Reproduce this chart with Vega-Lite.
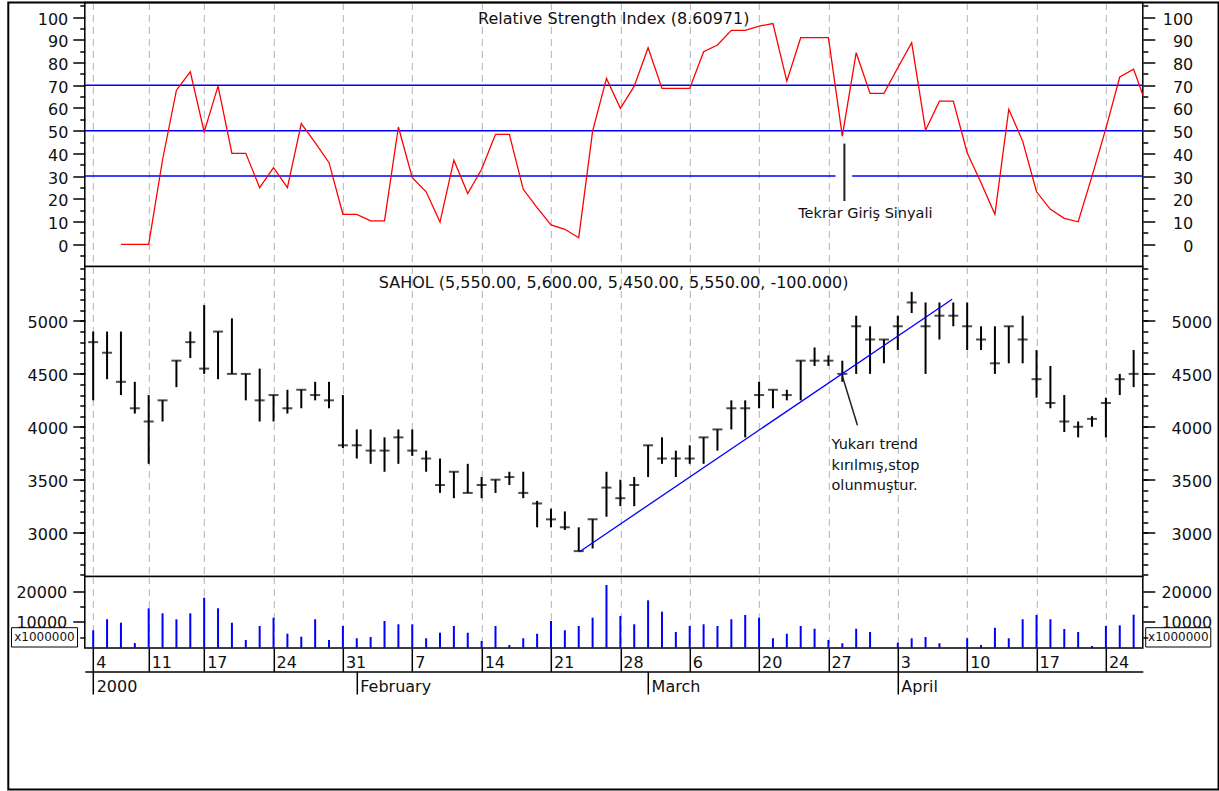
{
  "$schema": "https://vega.github.io/schema/vega-lite/v6.json",
  "padding": {"left": 5.8, "top": 0.5, "right": 0, "bottom": 0},
  "background": "white",
  "spacing": 0,
  "bounds": "flush",
  "config": {
    "font": "DejaVu Sans",
    "view": {"stroke": "#000000", "strokeWidth": 1.5, "fill": "white"},
    "axis": {"labelFont": "DejaVu Sans", "labelFontSize": 16, "labelColor": "#111111", "tickColor": "#000000", "tickWidth": 1.5, "domainColor": "#000000", "domainWidth": 1.5, "labelOverlap": false, "labelFlush": false, "labelBound": false, "grid": false}
  },
  "datasets": {
    "bars": [
      {"i":0,"date":"2000-01-04","high":4900,"low":4250,"close":4800,"vol":7280,"rsi":null},
      {"i":1,"date":"2000-01-05","high":4900,"low":4450,"close":4700,"vol":10890,"rsi":null},
      {"i":2,"date":"2000-01-06","high":4900,"low":4300,"close":4425,"vol":9770,"rsi":0},
      {"i":3,"date":"2000-01-07","high":4425,"low":4125,"close":4175,"vol":3100,"rsi":0},
      {"i":4,"date":"2000-01-11","high":4300,"low":3650,"close":4050,"vol":14490,"rsi":0},
      {"i":5,"date":"2000-01-12","high":4250,"low":4050,"close":4250,"vol":12850,"rsi":37.2},
      {"i":6,"date":"2000-01-13","high":4625,"low":4375,"close":4625,"vol":10890,"rsi":67.8},
      {"i":7,"date":"2000-01-14","high":4900,"low":4650,"close":4800,"vol":12850,"rsi":75.9},
      {"i":8,"date":"2000-01-17","high":5150,"low":4500,"close":4550,"vol":17970,"rsi":49.4},
      {"i":9,"date":"2000-01-18","high":4900,"low":4450,"close":4900,"vol":14490,"rsi":69.6},
      {"i":10,"date":"2000-01-19","high":5025,"low":4500,"close":4500,"vol":9770,"rsi":40.0},
      {"i":11,"date":"2000-01-20","high":4500,"low":4250,"close":4500,"vol":4100,"rsi":40.0},
      {"i":12,"date":"2000-01-21","high":4550,"low":4050,"close":4250,"vol":8690,"rsi":24.9},
      {"i":13,"date":"2000-01-24","high":4300,"low":4050,"close":4300,"vol":11410,"rsi":33.7},
      {"i":14,"date":"2000-01-25","high":4350,"low":4125,"close":4175,"vol":6160,"rsi":24.9},
      {"i":15,"date":"2000-01-26","high":4350,"low":4175,"close":4350,"vol":5180,"rsi":53.1},
      {"i":16,"date":"2000-01-27","high":4425,"low":4250,"close":4300,"vol":10890,"rsi":44.7},
      {"i":17,"date":"2000-01-28","high":4425,"low":4175,"close":4250,"vol":4100,"rsi":35.9},
      {"i":18,"date":"2000-01-31","high":4300,"low":3800,"close":3825,"vol":8690,"rsi":13.2},
      {"i":19,"date":"2000-02-01","high":3975,"low":3700,"close":3825,"vol":4660,"rsi":13.2},
      {"i":20,"date":"2000-02-02","high":3975,"low":3650,"close":3775,"vol":5080,"rsi":10.3},
      {"i":21,"date":"2000-02-03","high":3900,"low":3575,"close":3775,"vol":10330,"rsi":10.3},
      {"i":22,"date":"2000-02-04","high":3975,"low":3650,"close":3900,"vol":9250,"rsi":51.6},
      {"i":23,"date":"2000-02-07","high":3975,"low":3725,"close":3775,"vol":9250,"rsi":29.3},
      {"i":24,"date":"2000-02-08","high":3775,"low":3575,"close":3700,"vol":4660,"rsi":23.1},
      {"i":25,"date":"2000-02-09","high":3700,"low":3375,"close":3450,"vol":6490,"rsi":9.8},
      {"i":26,"date":"2000-02-10","high":3575,"low":3325,"close":3575,"vol":8690,"rsi":37.0},
      {"i":27,"date":"2000-02-11","high":3650,"low":3375,"close":3375,"vol":6490,"rsi":22.3},
      {"i":28,"date":"2000-02-14","high":3525,"low":3325,"close":3450,"vol":3770,"rsi":33.0},
      {"i":29,"date":"2000-02-15","high":3500,"low":3375,"close":3500,"vol":8690,"rsi":48.4},
      {"i":30,"date":"2000-02-16","high":3575,"low":3450,"close":3525,"vol":2460,"rsi":48.4},
      {"i":31,"date":"2000-02-17","high":3575,"low":3325,"close":3375,"vol":4660,"rsi":24.2},
      {"i":32,"date":"2000-02-18","high":3300,"low":3050,"close":3275,"vol":6160,"rsi":16.1},
      {"i":33,"date":"2000-02-21","high":3225,"low":3050,"close":3125,"vol":10330,"rsi":8.5},
      {"i":34,"date":"2000-02-22","high":3200,"low":3025,"close":3050,"vol":7280,"rsi":6.6},
      {"i":35,"date":"2000-02-23","high":3050,"low":2825,"close":2825,"vol":8690,"rsi":2.9},
      {"i":36,"date":"2000-02-24","high":3125,"low":2850,"close":3125,"vol":11410,"rsi":49.8},
      {"i":37,"date":"2000-02-25","high":3575,"low":3150,"close":3425,"vol":22130,"rsi":73.0},
      {"i":38,"date":"2000-02-28","high":3500,"low":3250,"close":3325,"vol":11970,"rsi":59.8},
      {"i":39,"date":"2000-02-29","high":3525,"low":3250,"close":3450,"vol":9250,"rsi":69.6},
      {"i":40,"date":"2000-03-01","high":3825,"low":3525,"close":3825,"vol":17110,"rsi":86.5},
      {"i":41,"date":"2000-03-02","high":3900,"low":3650,"close":3700,"vol":13380,"rsi":68.6},
      {"i":42,"date":"2000-03-03","high":3775,"low":3525,"close":3700,"vol":6720,"rsi":68.6},
      {"i":43,"date":"2000-03-06","high":3825,"low":3650,"close":3700,"vol":8690,"rsi":68.6},
      {"i":44,"date":"2000-03-07","high":3900,"low":3650,"close":3900,"vol":9250,"rsi":84.7},
      {"i":45,"date":"2000-03-08","high":3975,"low":3775,"close":3975,"vol":8690,"rsi":87.7},
      {"i":46,"date":"2000-03-09","high":4250,"low":3975,"close":4175,"vol":10890,"rsi":94.1},
      {"i":47,"date":"2000-03-10","high":4250,"low":3900,"close":4175,"vol":12300,"rsi":94.1},
      {"i":48,"date":"2000-03-20","high":4425,"low":4175,"close":4300,"vol":11410,"rsi":96.0},
      {"i":49,"date":"2000-03-21","high":4350,"low":4175,"close":4350,"vol":4660,"rsi":97.1},
      {"i":50,"date":"2000-03-22","high":4350,"low":4250,"close":4300,"vol":6160,"rsi":71.8},
      {"i":51,"date":"2000-03-23","high":4625,"low":4250,"close":4625,"vol":8690,"rsi":90.9},
      {"i":52,"date":"2000-03-24","high":4750,"low":4575,"close":4625,"vol":7800,"rsi":90.9},
      {"i":53,"date":"2000-03-27","high":4675,"low":4575,"close":4625,"vol":4100,"rsi":90.9},
      {"i":54,"date":"2000-03-28","high":4625,"low":4425,"close":4500,"vol":3020,"rsi":47.6},
      {"i":55,"date":"2000-03-29","high":5050,"low":4500,"close":4950,"vol":7800,"rsi":84.3},
      {"i":56,"date":"2000-03-30","high":4950,"low":4500,"close":4825,"vol":6720,"rsi":66.4},
      {"i":57,"date":"2000-03-31","high":4825,"low":4600,"close":4825,"vol":null,"rsi":66.4},
      {"i":58,"date":"2000-04-03","high":5050,"low":4725,"close":4950,"vol":3210,"rsi":77.7},
      {"i":59,"date":"2000-04-04","high":5275,"low":5075,"close":5175,"vol":4660,"rsi":88.7},
      {"i":60,"date":"2000-04-05","high":5175,"low":4500,"close":4950,"vol":5080,"rsi":50.2},
      {"i":61,"date":"2000-04-06","high":5175,"low":4825,"close":5050,"vol":3020,"rsi":63.0},
      {"i":62,"date":"2000-04-07","high":5175,"low":4950,"close":5050,"vol":null,"rsi":63.0},
      {"i":63,"date":"2000-04-10","high":5175,"low":4725,"close":4950,"vol":4660,"rsi":40.3},
      {"i":64,"date":"2000-04-11","high":4950,"low":4725,"close":4825,"vol":2460,"rsi":27.1},
      {"i":65,"date":"2000-04-12","high":4950,"low":4500,"close":4600,"vol":8130,"rsi":13.2},
      {"i":66,"date":"2000-04-13","high":4950,"low":4600,"close":4950,"vol":4660,"rsi":59.4},
      {"i":67,"date":"2000-04-14","high":5050,"low":4600,"close":4825,"vol":10890,"rsi":45.4},
      {"i":68,"date":"2000-04-17","high":4725,"low":4275,"close":4450,"vol":12300,"rsi":23.1},
      {"i":69,"date":"2000-04-18","high":4575,"low":4175,"close":4225,"vol":10890,"rsi":15.4},
      {"i":70,"date":"2000-04-19","high":4300,"low":3950,"close":4050,"vol":7700,"rsi":11.4},
      {"i":71,"date":"2000-04-20","high":4050,"low":3900,"close":4000,"vol":6720,"rsi":9.9},
      {"i":72,"date":"2000-04-21","high":4100,"low":4000,"close":4075,"vol":2130,"rsi":30.0},
      {"i":73,"date":"2000-04-24","high":4275,"low":3900,"close":4225,"vol":8690,"rsi":51.0},
      {"i":74,"date":"2000-04-25","high":4500,"low":4300,"close":4450,"vol":8900,"rsi":73.6},
      {"i":75,"date":"2000-04-26","high":4725,"low":4375,"close":4500,"vol":12400,"rsi":77.0},
      {"i":76,"date":"2000-04-27","high":null,"low":null,"close":null,"vol":null,"rsi":60.0}
    ]
  },
  "vconcat": [
    {
      "width": 1058,
      "height": 264,
      "resolve": {"axis": {"y": "independent", "x": "independent"}},
      "layer": [
        {
          "data": {"values": [{"level": 70}, {"level": 50}]},
          "mark": {"type": "rule", "color": "#0000ff", "strokeWidth": 1.5},
          "encoding": {
            "y": {"field": "level", "type": "quantitative", "scale": {"domain": [-9.77, 106.38], "nice": false, "zero": false},
              "axis": {"orient": "left", "values": [0,10,20,30,40,50,60,70,80,90,100], "tickSize": 12, "labelPadding": 5, "labelOffset": 2, "domain": false, "title": null, "zindex": 1}}
          }
        },
        {
          "data": {"values": [{"level": 30, "from": -0.605, "to": 53.51}, {"level": 30, "from": 54.71, "to": 75.66}]},
          "mark": {"type": "rule", "color": "#0000ff", "strokeWidth": 1.5},
          "encoding": {
            "x": {"field": "from", "type": "quantitative", "scale": {"domain": [-0.605, 75.66], "nice": false, "zero": false}, "axis": null},
            "x2": {"field": "to"},
            "y": {"field": "level", "type": "quantitative",
              "axis": {"orient": "left", "values": [-5,5,15,25,35,45,55,65,75,85,95,105], "tickSize": 5, "labels": false, "domain": false, "title": null, "zindex": 1}}
          }
        },
        {
          "data": {"name": "bars"},
          "mark": {"type": "line", "color": "#ff0000", "strokeWidth": 1.3, "clip": true},
          "encoding": {
            "x": {"field": "i", "type": "quantitative", "scale": {"domain": [-0.605, 75.66], "nice": false, "zero": false},
              "axis": {"values": [0,4,8,13,18,23,28,33,38,43,48,53,58,63,68,73], "grid": true, "gridDash": [7,5], "gridColor": "#b3b3b3", "gridWidth": 1, "labels": false, "ticks": false, "domain": false, "title": null, "zindex": 0}},
            "y": {"field": "rsi", "type": "quantitative",
              "axis": {"orient": "right", "values": [0,10,20,30,40,50,60,70,80,90,100], "tickSize": 12, "labelAlign": "right", "labelPadding": 38, "labelOffset": 2, "domain": false, "title": null, "zindex": 1}}
          }
        },
        {
          "data": {"values": [{"i": 54.15, "top": 44.3, "bottom": 19.05}]},
          "mark": {"type": "rule", "color": "#222222", "strokeWidth": 2},
          "encoding": {
            "x": {"field": "i", "type": "quantitative", "axis": null},
            "y": {"field": "top", "type": "quantitative",
              "axis": {"orient": "right", "values": [-5,5,15,25,35,45,55,65,75,85,95,105], "tickSize": 5, "labels": false, "domain": false, "title": null, "zindex": 1}},
            "y2": {"field": "bottom"}
          }
        },
        {
          "data": {"values": [{"i": 50.82, "v": 13.3, "note": "Tekrar Giriş Sinyali"}]},
          "mark": {"type": "text", "align": "left", "baseline": "middle", "fontSize": 14.5, "font": "DejaVu Sans", "color": "#111111"},
          "encoding": {
            "x": {"field": "i", "type": "quantitative", "axis": null},
            "y": {"field": "v", "type": "quantitative", "axis": null},
            "text": {"field": "note"}
          }
        },
        {
          "data": {"values": [{"title": "Relative Strength Index (8.60971)"}]},
          "mark": {"type": "text", "align": "center", "baseline": "alphabetic", "fontSize": 16, "font": "DejaVu Sans", "color": "#111111"},
          "encoding": {
            "x": {"datum": 37.52, "type": "quantitative", "axis": null},
            "y": {"datum": 96.9, "type": "quantitative", "axis": null},
            "text": {"field": "title"}
          }
        }
      ]
    },
    {
      "width": 1058,
      "height": 310,
      "resolve": {"axis": {"y": "independent", "x": "independent"}},
      "layer": [
        {
          "data": {"name": "bars"},
          "mark": {"type": "rule", "color": "#000000", "strokeWidth": 2},
          "encoding": {
            "x": {"field": "i", "type": "quantitative", "scale": {"domain": [-0.605, 75.66], "nice": false, "zero": false},
              "axis": {"values": [0,4,8,13,18,23,28,33,38,43,48,53,58,63,68,73], "grid": true, "gridDash": [7,5], "gridColor": "#b3b3b3", "gridWidth": 1, "labels": false, "ticks": false, "domain": false, "title": null, "zindex": 0}},
            "y": {"field": "low", "type": "quantitative", "scale": {"domain": [2585, 5515], "nice": false, "zero": false},
              "axis": {"orient": "left", "values": [3000,3500,4000,4500,5000], "format": "d", "tickSize": 12, "labelPadding": 5, "labelOffset": 2, "domain": false, "title": null, "zindex": 1}},
            "y2": {"field": "high"}
          }
        },
        {
          "data": {"name": "bars"},
          "mark": {"type": "tick", "color": "#000000", "orient": "horizontal", "size": 10, "thickness": 2},
          "encoding": {
            "x": {"field": "i", "type": "quantitative", "axis": null},
            "y": {"field": "close", "type": "quantitative",
              "axis": {"orient": "right", "values": [3000,3500,4000,4500,5000], "format": "d", "tickSize": 12, "labelAlign": "right", "labelPadding": 57, "labelOffset": 2, "domain": false, "title": null, "zindex": 1}}
          }
        },
        {
          "data": {"values": [{"i1": 35.03, "p1": 2817, "i2": 61.92, "p2": 5205}]},
          "mark": {"type": "rule", "color": "#0000ff", "strokeWidth": 1.3},
          "encoding": {
            "x": {"field": "i1", "type": "quantitative", "axis": null},
            "x2": {"field": "i2"},
            "y": {"field": "p1", "type": "quantitative",
              "axis": {"orient": "left", "values": [2600,2700,2800,2900,3000,3100,3200,3300,3400,3500,3600,3700,3800,3900,4000,4100,4200,4300,4400,4500,4600,4700,4800,4900,5000,5100,5200,5300,5400,5500], "tickSize": 5, "labels": false, "domain": false, "title": null, "zindex": 1}},
            "y2": {"field": "p2"}
          }
        },
        {
          "data": {"values": [{"i1": 54.0, "p1": 4480, "i2": 55.09, "p2": 4014}]},
          "mark": {"type": "rule", "color": "#222222", "strokeWidth": 1.5},
          "encoding": {
            "x": {"field": "i1", "type": "quantitative", "axis": null},
            "x2": {"field": "i2"},
            "y": {"field": "p1", "type": "quantitative",
              "axis": {"orient": "right", "values": [2600,2700,2800,2900,3000,3100,3200,3300,3400,3500,3600,3700,3800,3900,4000,4100,4200,4300,4400,4500,4600,4700,4800,4900,5000,5100,5200,5300,5400,5500], "tickSize": 5, "labels": false, "domain": false, "title": null, "zindex": 1}},
            "y2": {"field": "p2"}
          }
        },
        {
          "data": {"values": [
            {"i": 53.22, "p": 3825, "note": "Yukarı trend"},
            {"i": 53.22, "p": 3630, "note": "kırılmış,stop"},
            {"i": 53.22, "p": 3440, "note": "olunmuştur."}
          ]},
          "mark": {"type": "text", "align": "left", "baseline": "middle", "fontSize": 14.5, "font": "DejaVu Sans", "color": "#111111"},
          "encoding": {
            "x": {"field": "i", "type": "quantitative", "axis": null},
            "y": {"field": "p", "type": "quantitative", "axis": null},
            "text": {"field": "note"}
          }
        },
        {
          "data": {"values": [{"title": "SAHOL (5,550.00, 5,600.00, 5,450.00, 5,550.00, -100.000)"}]},
          "mark": {"type": "text", "align": "center", "baseline": "alphabetic", "fontSize": 16, "font": "DejaVu Sans", "color": "#111111"},
          "encoding": {
            "x": {"datum": 37.52, "type": "quantitative", "axis": null},
            "y": {"datum": 5312, "type": "quantitative", "axis": null},
            "text": {"field": "title"}
          }
        }
      ]
    },
    {
      "width": 1058,
      "height": 71.5,
      "resolve": {"axis": {"y": "independent", "x": "independent"}},
      "layer": [
        {
          "data": {"name": "bars"},
          "mark": {"type": "rule", "color": "#0000ff", "strokeWidth": 2},
          "encoding": {
            "x": {"field": "i", "type": "quantitative", "scale": {"domain": [-0.605, 75.66], "nice": false, "zero": false},
              "axis": {"orient": "bottom", "values": [0,4,8,13,18,23,28,33,38,43,48,53,58,63,68,73], "grid": true, "gridDash": [7,5], "gridColor": "#b3b3b3", "gridWidth": 1, "ticks": true, "tickSize": 23.4, "domain": false,
                "labelExpr": "['4','11','17','24','31','7','14','21','28','6','20','27','3','10','17','24'][indexof([0,4,8,13,18,23,28,33,38,43,48,53,58,63,68,73], datum.value)]",
                "labelAlign": "left", "labelBaseline": "alphabetic", "labelPadding": -3.4, "labelOffset": 2.5, "title": null, "zindex": 0}},
            "y": {"field": "vol", "type": "quantitative", "scale": {"domain": [1475, 24918], "nice": false, "zero": false},
              "axis": {"orient": "left", "values": [10000, 20000], "format": "d", "tickSize": 12, "labelPadding": 6, "labelOffset": 1, "domain": false, "title": null, "zindex": 0}},
            "y2": {"datum": 1475}
          }
        },
        {
          "data": {"values": [
            {"x1": -5.89, "x2": -1.13, "v1": 1800, "v2": 8130},
            {"x1": 75.87, "x2": 80.56, "v1": 1800, "v2": 8130}
          ]},
          "mark": {"type": "rect", "fill": "white", "stroke": "#000000", "strokeWidth": 1, "clip": false},
          "encoding": {
            "x": {"field": "x1", "type": "quantitative",
              "axis": {"orient": "bottom", "offset": 23.4, "values": [0, 19, 40, 58], "tickSize": 22.6, "domain": true,
                "labelExpr": "['2000','February','March','April'][indexof([0,19,40,58], datum.value)]",
                "labelAlign": "left", "labelBaseline": "alphabetic", "labelPadding": -2.6, "labelOffset": 3, "grid": false, "title": null, "zindex": 1}},
            "x2": {"field": "x2"},
            "y": {"field": "v1", "type": "quantitative",
              "axis": {"orient": "right", "values": [10000, 20000], "format": "d", "tickSize": 12, "labelAlign": "right", "labelPadding": 57, "labelOffset": 1, "domain": false, "title": null, "zindex": 0}},
            "y2": {"field": "v2"}
          }
        },
        {
          "data": {"values": [{"i": -3.51, "v": 4920, "note": "x1000000"}, {"i": 78.22, "v": 4920, "note": "x1000000"}]},
          "mark": {"type": "text", "align": "center", "baseline": "middle", "fontSize": 12, "font": "DejaVu Sans", "color": "#111111", "clip": false},
          "encoding": {
            "x": {"field": "i", "type": "quantitative", "axis": null},
            "y": {"field": "v", "type": "quantitative",
              "axis": {"orient": "left", "values": [5000, 15000], "tickSize": 5, "labels": false, "domain": false, "title": null, "zindex": 1}},
            "text": {"field": "note"}
          }
        },
        {
          "data": {"values": [{"x1": -6.12, "x2": 81.12, "v1": -44918, "v2": 213115}]},
          "mark": {"type": "rect", "filled": false, "color": "#000000", "strokeWidth": 2, "clip": false},
          "encoding": {
            "x": {"field": "x1", "type": "quantitative", "axis": null},
            "x2": {"field": "x2"},
            "y": {"field": "v1", "type": "quantitative",
              "axis": {"orient": "right", "values": [5000, 15000], "tickSize": 5, "labels": false, "domain": false, "title": null, "zindex": 1}},
            "y2": {"field": "v2"}
          }
        }
      ]
    }
  ]
}
